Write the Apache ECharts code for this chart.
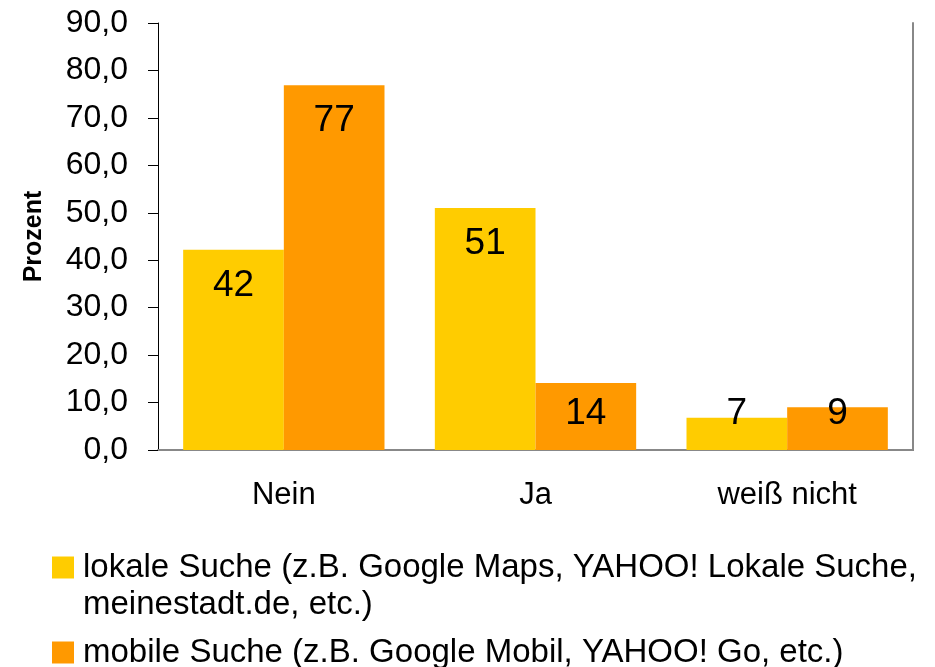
<!DOCTYPE html>
<html>
<head>
<meta charset="utf-8">
<script src="https://cdn.jsdelivr.net/npm/echarts@6/dist/echarts.min.js"></script>
<style>
  html, body { margin: 0; padding: 0; background: #fff; }
  #chart { width: 935px; height: 667px; }
</style>
</head>
<body>
<div id="chart"></div>
<script>
  // Kategorien und Werte (Prozent)
  var categories = ['Nein', 'Ja', 'weiß nicht'];
  var lokaleWerte = [42.2, 51.0, 6.8];
  var mobileWerte = [76.9, 14.1, 9.0];
  var serienNamen = [
    'lokale Suche (z.B. Google Maps, YAHOO! Lokale Suche, meinestadt.de, etc.)',
    'mobile Suche (z.B. Google Mobil, YAHOO! Go, etc.)'
  ];
  // leere erste Zeile, damit das Kästchen neben der ersten Textzeile steht
  var legendTexte = [
    '\nlokale Suche (z.B. Google Maps, YAHOO! Lokale Suche,\nmeinestadt.de, etc.)',
    'mobile Suche (z.B. Google Mobil, YAHOO! Go, etc.)'
  ];

  var font = "'Liberation Sans', Arial, sans-serif";
  var chart = echarts.init(document.getElementById('chart'));

  // kurze Balken: Beschriftung unten im Balken wie in Excel
  function balkenDaten(werte) {
    return werte.map(function (v) {
      return { value: v, label: { position: v < 15 ? 'insideBottom' : 'insideTop' } };
    });
  }

  var barLabel = {
    show: true,
    distance: 18,
    color: '#000',
    fontFamily: font,
    fontSize: 37,
    lineHeight: 36,
    formatter: function (p) { return Math.round(p.value); }
  };

  var legendText = { fontFamily: font, fontSize: 33, color: '#000', lineHeight: 37, padding: [0, 0, 0, 4] };

  var option = {
    backgroundColor: '#fff',
    animation: false,
    color: ['#FFCC00', '#FF9900'],
    grid: { left: 158, top: 23, right: 22, bottom: 217 },
    legend: [{
      data: [serienNamen[0]],
      orient: 'vertical',
      left: 52,
      top: 512,
      padding: 0,
      icon: 'rect',
      itemWidth: 22,
      itemHeight: 22,
      formatter: function () { return legendTexte[0]; },
      textStyle: legendText
    }, {
      data: [serienNamen[1]],
      orient: 'vertical',
      left: 52,
      top: 634,
      padding: 0,
      icon: 'rect',
      itemWidth: 22,
      itemHeight: 22,
      formatter: function () { return legendTexte[1]; },
      textStyle: legendText
    }],
    xAxis: [{
      type: 'category',
      data: categories,
      axisLine: { lineStyle: { color: '#333', width: 1 } },
      axisTick: { length: 10, lineStyle: { color: '#333' } },
      axisLabel: { color: '#000', fontFamily: font, fontSize: 31, margin: 30 }
    }, {
      type: 'category',
      data: categories,
      position: 'top',
      axisLine: { lineStyle: { color: '#888', width: 2 } },
      axisTick: { show: false },
      axisLabel: { show: false }
    }],
    yAxis: [{
      type: 'value',
      min: 0,
      max: 90,
      interval: 10,
      name: 'Prozent',
      nameLocation: 'middle',
      nameRotate: 90,
      nameGap: 111,
      nameTextStyle: { fontFamily: font, fontSize: 25, fontWeight: 'bold', color: '#000' },
      axisLine: { show: true, lineStyle: { color: '#000', width: 1 } },
      axisTick: { show: true, length: 10, lineStyle: { color: '#000' } },
      splitLine: { show: false },
      axisLabel: {
        color: '#000', fontFamily: font, fontSize: 32, margin: 30,
        formatter: function (v) { return v.toFixed(1).replace('.', ','); }
      }
    }, {
      type: 'value',
      min: 0,
      max: 90,
      interval: 10,
      position: 'right',
      axisLine: { show: true, lineStyle: { color: '#888', width: 2 } },
      axisTick: { show: false },
      axisLabel: { show: false },
      splitLine: { show: false }
    }],
    series: [{
      name: serienNamen[0],
      type: 'bar',
      barGap: '0%',
      barCategoryGap: '20%',
      label: barLabel,
      data: balkenDaten(lokaleWerte)
    }, {
      name: serienNamen[1],
      type: 'bar',
      barGap: '0%',
      barCategoryGap: '20%',
      label: barLabel,
      data: balkenDaten(mobileWerte)
    }]
  };

  chart.setOption(option);
</script>
</body>
</html>
